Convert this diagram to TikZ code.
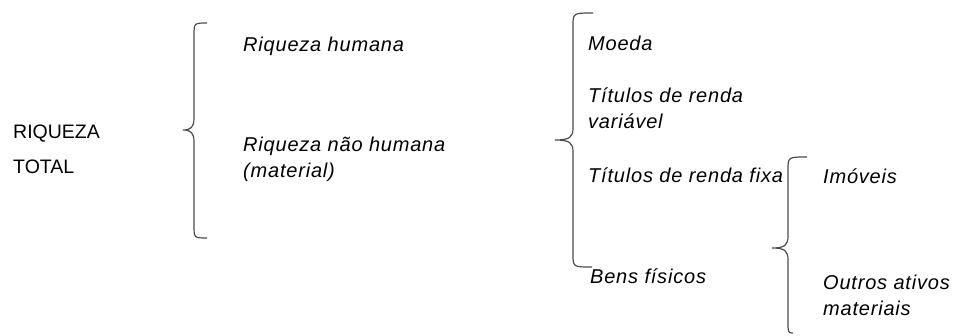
\documentclass[tikz,border=0pt]{standalone}
\usepackage{fontspec}
\setmainfont{Liberation Sans}
\newfontfamily\wordfont[LetterSpace=4]{Liberation Sans}
\newcommand{\itemfont}{\wordfont\itshape\fontsize{20}{25.5}\selectfont}
\newcommand{\rootfont}{\fontsize{19.5}{35}\selectfont}
% word-like curly bracket: line x, top end x, top y, tip x, tip y, bottom end x, bottom y
\newcommand{\wordbrace}[7]{%
  \draw[bracket] (#2,#3) .. controls (#1,#3) .. (#1,{#3+13})
     -- (#1,{#5-12}) .. controls (#1,{#5-3}) and ({#1-3},#5) .. (#4,#5)
     .. controls ({#1-3},#5) and (#1,{#5+3}) .. (#1,{#5+12})
     -- (#1,{#7-13}) .. controls (#1,#7) .. (#6,#7);}
\tikzset{%
item/.style={anchor=base west,inner sep=0pt,align=left,font=\itemfont},
root/.style={anchor=base west,inner sep=0pt,align=left,font=\rootfont},
bracket/.style={draw=black!70,line width=1.2pt},
}

\begin{document}
\begin{tikzpicture}[x=1pt,y=-1pt]
\useasboundingbox (0,0) rectangle (954,335);

% multi-line nodes sit on the baseline of their last line
\node[root] (total) at (13,173) {RIQUEZA\\TOTAL};

\wordbrace{194}{207}{23}{183}{130}{207}{238}

\node[item] (humana) at (243,51) {Riqueza humana};
\node[item] (naohumana) at (243,177) {Riqueza não humana\\(material)};

\wordbrace{573}{593}{13}{555}{140}{592}{267}

\node[item] (moeda) at (588,50) {Moeda};
\node[item] (variavel) at (588,128) {Títulos de renda\\variável};
\node[item] (fixa) at (588,182) {Títulos de renda fixa};
\node[item] (bens) at (590,283) {Bens físicos};

\wordbrace{788}{807}{157}{772}{248}{793}{333}

\node[item] (imoveis) at (823,183) {Imóveis};
\node[item] (outros) at (823,315) {Outros ativos\\materiais};
\end{tikzpicture}
\end{document}
